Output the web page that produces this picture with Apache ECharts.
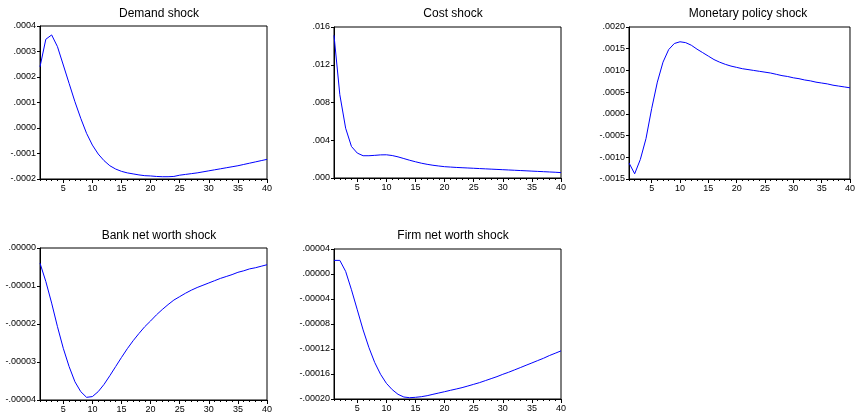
<!DOCTYPE html>
<html>
<head>
<meta charset="utf-8">
<script src="https://cdn.jsdelivr.net/npm/echarts@6/dist/echarts.min.js"></script>
<style>
  html, body { margin: 0; padding: 0; background: #fff; }
  #main { width: 858px; height: 418px; }
</style>
</head>
<body>
<div id="main"></div>
<script>
// periods 1..40
var periods = [];
for (var i = 1; i <= 40; i++) periods.push(String(i));

var demand = [0.000240, 0.000348, 0.000365, 0.000319, 0.000247, 0.000175, 0.000103, 0.000038, -0.000021, -0.000067,
  -0.000102, -0.000128, -0.000148, -0.000161, -0.000170, -0.000176, -0.000180, -0.000184, -0.000187, -0.000188,
  -0.000190, -0.000191, -0.000191, -0.000190, -0.000185, -0.000182, -0.000179, -0.000176, -0.000172, -0.000168,
  -0.000164, -0.000160, -0.000156, -0.000152, -0.000148, -0.000143, -0.000138, -0.000133, -0.000128, -0.000123];

var cost = [0.01512, 0.00883, 0.00527, 0.00334, 0.00264, 0.00236, 0.00236, 0.00240, 0.00245, 0.00246,
  0.00238, 0.00224, 0.00206, 0.00188, 0.00172, 0.00157, 0.00145, 0.00135, 0.00127, 0.00120,
  0.00116, 0.00112, 0.00109, 0.00106, 0.00103, 0.00100, 0.00097, 0.00094, 0.00091, 0.00088,
  0.00085, 0.00082, 0.00079, 0.00076, 0.00073, 0.00070, 0.00067, 0.00064, 0.00061, 0.00057];

var monetary = [-0.00113, -0.00138, -0.00105, -0.00057, 0.00012, 0.00073, 0.00119, 0.00148, 0.00162, 0.00166,
  0.00164, 0.00158, 0.00149, 0.00141, 0.00133, 0.00125, 0.00119, 0.00114, 0.00110, 0.00107,
  0.00104, 0.00102, 0.00100, 0.00098, 0.00096, 0.00094, 0.00091, 0.00088, 0.00086, 0.00083,
  0.00081, 0.00078, 0.00076, 0.00073, 0.00071, 0.00069, 0.00066, 0.00064, 0.00062, 0.00060];

var bankNW = [-0.0000040, -0.0000088, -0.0000145, -0.0000207, -0.0000264, -0.0000312, -0.0000352, -0.0000378, -0.0000393, -0.0000391,
  -0.0000378, -0.0000359, -0.0000336, -0.0000312, -0.0000288, -0.0000265, -0.0000244, -0.0000225, -0.0000207, -0.0000192,
  -0.0000176, -0.0000162, -0.0000149, -0.0000137, -0.0000128, -0.0000119, -0.0000111, -0.0000104, -0.0000098, -0.0000092,
  -0.0000086, -0.0000080, -0.0000075, -0.0000070, -0.0000064, -0.0000060, -0.0000055, -0.0000052, -0.0000048, -0.0000044];

var firmNW = [0.0000218, 0.0000218, 0.0000042, -0.0000252, -0.0000573, -0.0000894, -0.0001177, -0.0001417, -0.0001605, -0.0001749,
  -0.0001850, -0.0001925, -0.0001968, -0.0001979, -0.0001973, -0.0001963, -0.0001947, -0.0001925, -0.0001904, -0.0001883,
  -0.0001861, -0.0001840, -0.0001818, -0.0001792, -0.0001765, -0.0001738, -0.0001706, -0.0001674, -0.0001642, -0.0001605,
  -0.0001572, -0.0001535, -0.0001498, -0.0001460, -0.0001423, -0.0001385, -0.0001348, -0.0001305, -0.0001268, -0.0001230];

var titles = ['Demand shock', 'Cost shock', 'Monetary policy shock', 'Bank net worth shock', 'Firm net worth shock'];
var seriesData = [demand, cost, monetary, bankNW, firmNW];
// y axis ranges: [min, max, step, decimals]
var yRanges = [
  [-0.0002, 0.0004, 0.0001, 4],
  [0, 0.016, 0.004, 3],
  [-0.0015, 0.0020, 0.0005, 4],
  [-0.00004, 0.00000, 0.00001, 5],
  [-0.00020, 0.00004, 0.00004, 5]
];

// plot boxes (left, top, width, height)
var boxes = [
  [40, 26, 227, 153],
  [334, 27, 227, 151],
  [629, 27, 228, 152],
  [40, 248, 227, 152],
  [334, 249, 227, 150]
];
var titlePos = [[154, 3], [448, 3], [743, 3], [154, 225], [448, 225]];

var FONT = 'Liberation Sans';

// EViews style: ".0004", "-.0001"
function fmt(v, d) {
  var s = Math.abs(v).toFixed(d).replace(/^0/, '');
  if (v < 0 && Math.abs(v) >= Math.pow(10, -d) / 2) s = '-' + s;
  return s;
}
function every5(idx, val) { return (+val) % 5 === 0; }

var option = {
  backgroundColor: '#fff',
  animation: false,
  title: [], grid: [], xAxis: [], yAxis: [], series: []
};

for (var k = 0; k < 5; k++) {
  (function (k) {
    var b = boxes[k], r = yRanges[k];
    option.title.push({
      text: titles[k],
      left: titlePos[k][0], top: titlePos[k][1], textAlign: 'center',
      textStyle: { fontFamily: FONT, fontSize: 12, fontWeight: 'normal', color: '#000' }
    });
    option.grid.push({
      left: b[0], top: b[1], width: b[2], height: b[3],
      show: true, borderColor: '#000', borderWidth: 1, backgroundColor: '#fff'
    });
    // main x axis: labels + long ticks every 5
    option.xAxis.push({
      type: 'category', gridIndex: k, data: periods, boundaryGap: false,
      axisLine: { onZero: false, lineStyle: { color: '#000', width: 1 } },
      axisTick: { interval: every5, length: 4, lineStyle: { color: '#000' } },
      axisLabel: {
        interval: every5,
        margin: 5, fontFamily: FONT, fontSize: 9, color: '#000'
      },
      splitLine: { show: false }
    });
    // short ticks every period
    option.xAxis.push({
      type: 'category', gridIndex: k, data: periods, boundaryGap: false, position: 'bottom',
      axisLine: { show: false, onZero: false },
      axisTick: { interval: 0, length: 2, lineStyle: { color: '#000' } },
      axisLabel: { show: false },
      splitLine: { show: false }
    });
    option.yAxis.push({
      type: 'value', gridIndex: k, min: r[0], max: r[1], interval: r[2],
      axisLine: { show: true, onZero: false, lineStyle: { color: '#000', width: 1 } },
      axisTick: { show: true, length: 3, lineStyle: { color: '#000' } },
      axisLabel: {
        margin: 4, fontFamily: FONT, fontSize: 9, color: '#000',
        formatter: function (v) { return fmt(v, r[3]); }
      },
      splitLine: { show: false }
    });
    option.series.push({
      type: 'line', xAxisIndex: 2 * k, yAxisIndex: k,
      data: seriesData[k], showSymbol: false, smooth: false,
      lineStyle: { color: '#0000ff', width: 1 }
    });
  })(k);
}

var chart = echarts.init(document.getElementById('main'));
chart.setOption(option);
</script>
</body>
</html>
